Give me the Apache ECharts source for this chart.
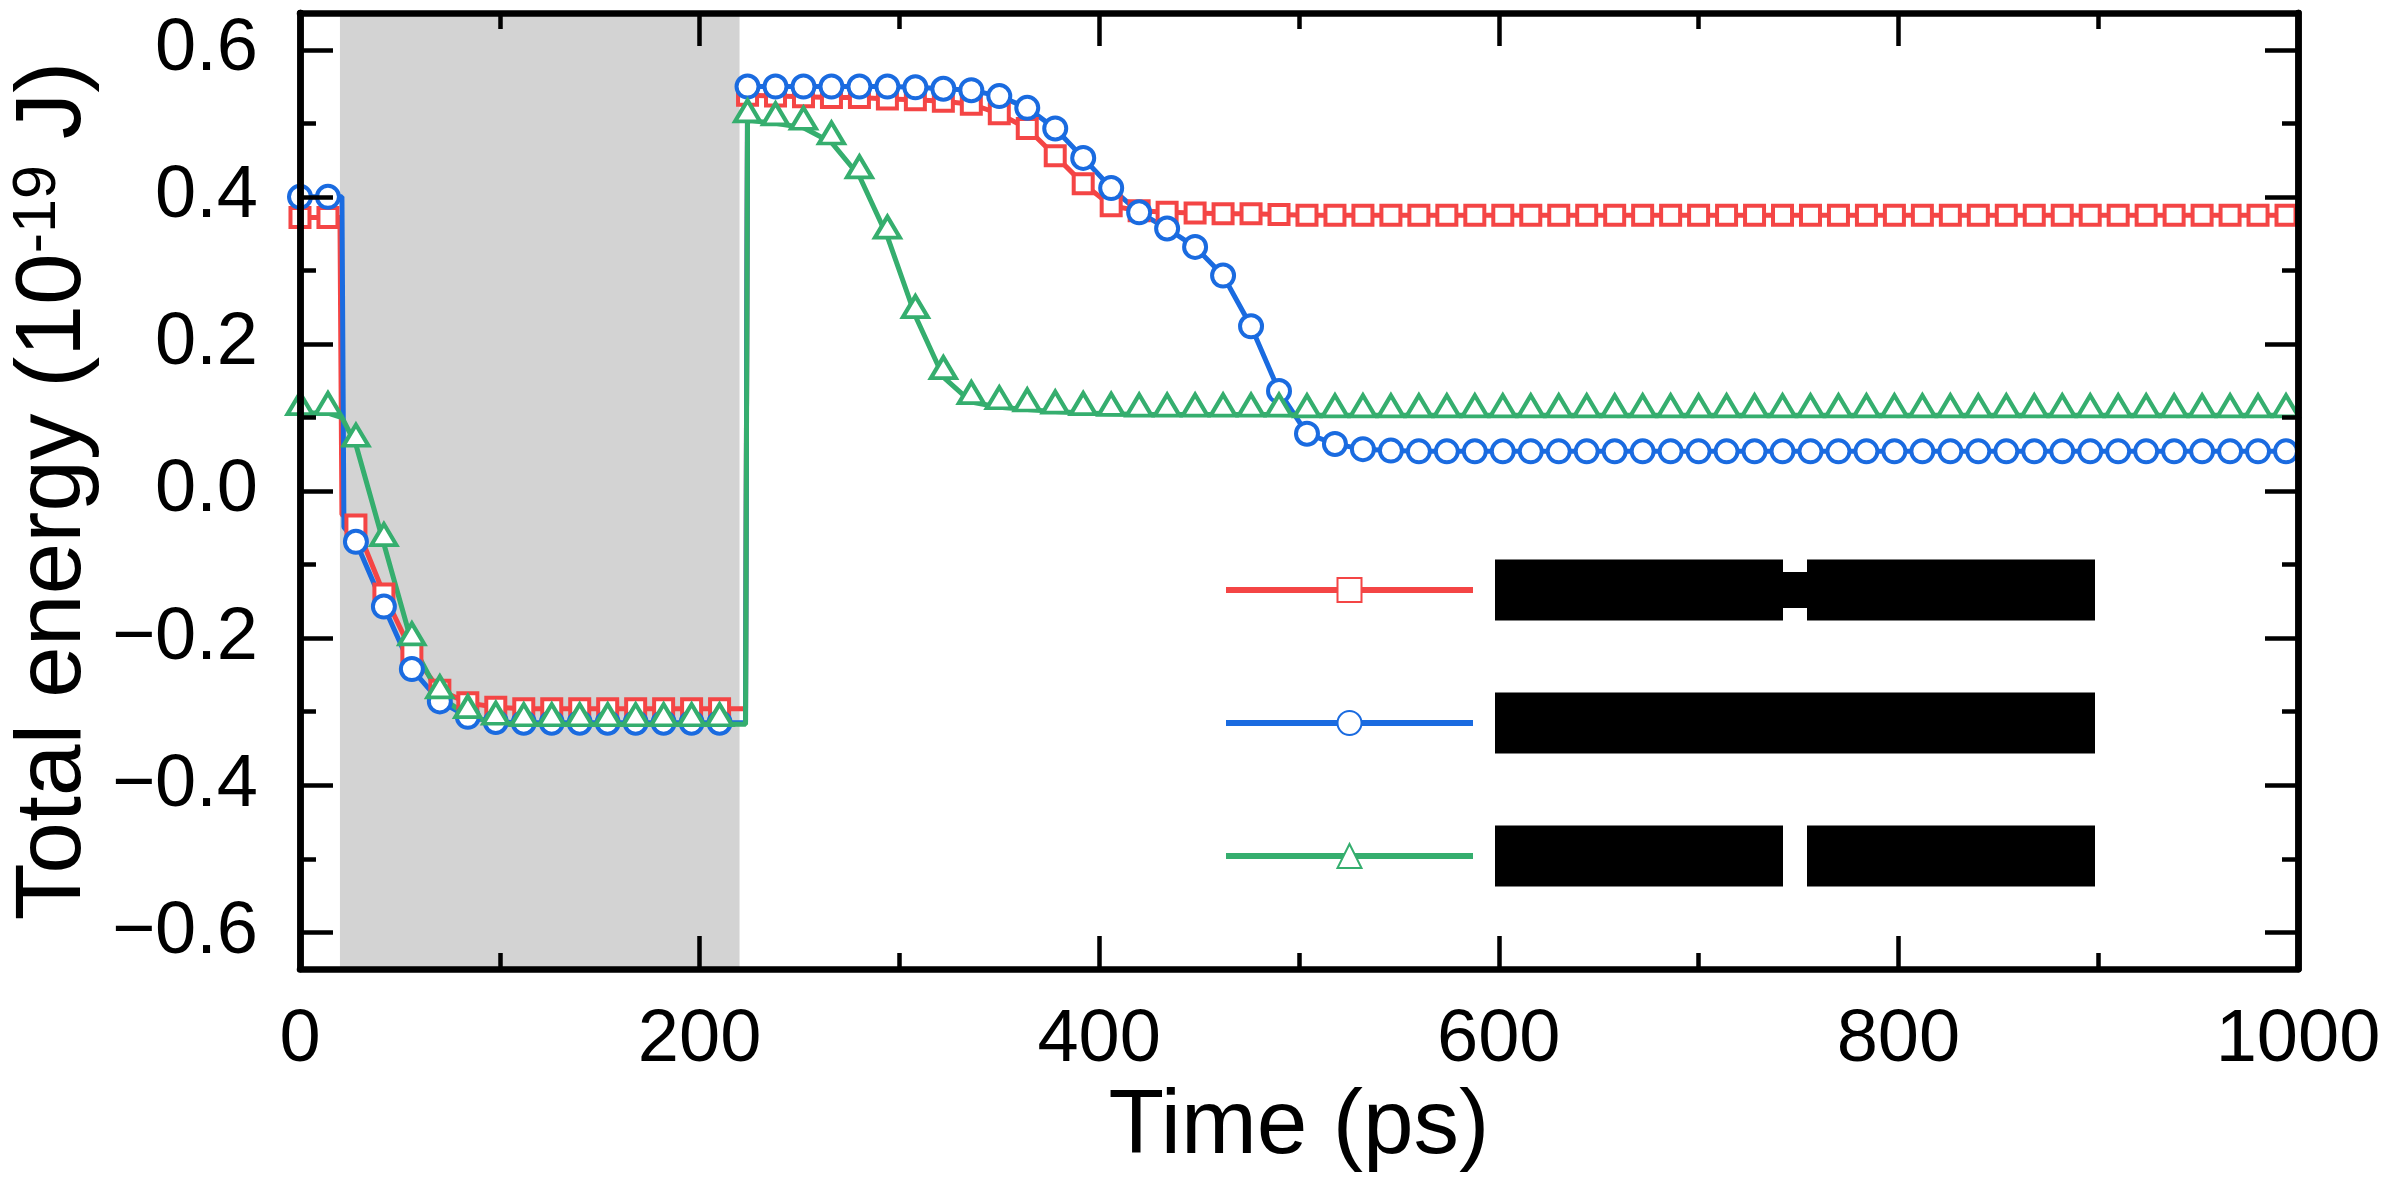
<!DOCTYPE html>
<html>
<head>
<meta charset="utf-8">
<script src="https://cdn.jsdelivr.net/npm/echarts@6.0.0/dist/echarts.min.js"></script>
<style>
  html, body { margin: 0; padding: 0; background: #fff; }
  #main { width: 2387px; height: 1178px; }
</style>
</head>
<body>
<div id="main"></div>
<script>
// marker times (ps), one symbol every 14 ps
var times = [0, 14, 28, 42, 56, 70, 84, 98, 112, 126, 140, 154, 168, 182, 196, 210,
  224, 238, 252, 266, 280, 294, 308, 322, 336, 350, 364, 378, 392, 406, 420, 434, 448, 462, 476, 490,
  504, 518, 532, 546, 560, 574, 588, 602, 616, 630, 644, 658, 672, 686, 700, 714, 728, 742, 756, 770,
  784, 798, 812, 826, 840, 854, 868, 882, 896, 910, 924, 938, 952, 966, 980, 994]

var redE = [0.372, 0.372, -0.046, -0.140, -0.219, -0.271, -0.288, -0.294, -0.296, -0.296, -0.296, -0.296, -0.296, -0.296, -0.296, -0.296,
  0.538, 0.537, 0.536, 0.535, 0.535, 0.533, 0.532, 0.530, 0.526, 0.513, 0.493, 0.456, 0.418, 0.388, 0.381, 0.379, 0.378, 0.377, 0.377, 0.376,
  0.375, 0.375, 0.375, 0.375, 0.375, 0.375, 0.375, 0.375, 0.375, 0.375, 0.375, 0.375, 0.375, 0.375, 0.375, 0.375, 0.375, 0.375, 0.375, 0.375,
  0.375, 0.375, 0.375, 0.375, 0.375, 0.375, 0.375, 0.375, 0.375, 0.375, 0.375, 0.375, 0.375, 0.375, 0.375, 0.375]

var blueE = [0.400, 0.400, -0.069, -0.157, -0.242, -0.286, -0.307, -0.314, -0.315, -0.315, -0.315, -0.315, -0.315, -0.315, -0.315, -0.315,
  0.550, 0.550, 0.550, 0.550, 0.550, 0.550, 0.549, 0.547, 0.545, 0.537, 0.521, 0.493, 0.453, 0.412, 0.379, 0.357, 0.332, 0.293, 0.224, 0.136,
  0.078, 0.064, 0.057, 0.055, 0.054, 0.054, 0.054, 0.054, 0.054, 0.054, 0.054, 0.054, 0.054, 0.054, 0.054, 0.054, 0.054, 0.054, 0.054, 0.054,
  0.054, 0.054, 0.054, 0.054, 0.054, 0.054, 0.054, 0.054, 0.054, 0.054, 0.054, 0.054, 0.054, 0.054, 0.054, 0.054]

var greenE = [0.106, 0.106, 0.063, -0.072, -0.207, -0.279, -0.306, -0.315, -0.317, -0.317, -0.317, -0.317, -0.317, -0.317, -0.317, -0.317,
  0.504, 0.500, 0.494, 0.474, 0.428, 0.346, 0.238, 0.155, 0.121, 0.114, 0.111, 0.108, 0.106, 0.105, 0.104, 0.104, 0.104, 0.104, 0.104, 0.104,
  0.103, 0.103, 0.103, 0.103, 0.103, 0.103, 0.103, 0.103, 0.103, 0.103, 0.103, 0.103, 0.103, 0.103, 0.103, 0.103, 0.103, 0.103, 0.103, 0.103,
  0.103, 0.103, 0.103, 0.103, 0.103, 0.103, 0.103, 0.103, 0.103, 0.103, 0.103, 0.103, 0.103, 0.103, 0.103, 0.103]

// points between the symbols where the curves drop / jump (no symbol drawn)
var redSteps = [[20, 0.372], [21, -0.032], [223, -0.296]]
var blueSteps = [[21, 0.400], [22, -0.049], [223, -0.315]]
var greenSteps = [[21, 0.100], [223, -0.317]]

var seriesNames = ['Case 1', 'Case 2', 'Case 3']
var shadeRange = [20, 220]
var yMajor = [-0.6, -0.4, -0.2, 0, 0.2, 0.4, 0.6]
var yMinor = [-0.5, -0.3, -0.1, 0.1, 0.3, 0.5]

var FONT = 'Liberation Sans, Arial, sans-serif'

function buildData(vals, steps) {
  var out = []
  for (var i = 0; i < times.length; i++) {
    out.push({ value: [times[i], vals[i]] })
  }
  steps.forEach(function (p) {
    out.push({ value: [p[0], p[1]], symbol: 'none' })
  })
  out.sort(function (a, b) { return a.value[0] - b.value[0] })
  return out
}

function yLabel(v) {
  return (v < -1e-9 ? '\u2212' : '') + Math.abs(v).toFixed(1)
}

function yAxisCfg(pos, ticks, len, labels) {
  return {
    type: 'value', position: pos, min: -0.65, max: 0.65, z: 10,
    axisLine: { show: true, onZero: false, lineStyle: { color: '#000', width: 6.5 } },
    axisTick: { show: true, inside: true, length: len, customValues: ticks, lineStyle: { color: '#000', width: 4.5 } },
    axisLabel: labels ? {
      show: true, customValues: ticks, margin: 42, formatter: yLabel,
      color: '#000', fontSize: 74, fontFamily: FONT
    } : { show: false },
    splitLine: { show: false }
  }
}

function xAxisCfg(pos, main) {
  var cfg = {
    type: 'value', position: pos, min: 0, max: 1000, interval: 200, z: 10,
    axisLine: { show: true, onZero: false, lineStyle: { color: '#000', width: 6.5 } },
    axisTick: { show: true, inside: true, length: 33, lineStyle: { color: '#000', width: 4.5 } },
    minorTick: { show: true, splitNumber: 2, length: 16, lineStyle: { color: '#000', width: 4.5 } },
    axisLabel: { show: false },
    splitLine: { show: false }
  }
  if (main) {
    cfg.axisLabel = {
      show: true, margin: 34, color: '#000', fontSize: 74, fontFamily: FONT,
      formatter: function (v) { return String(v) }
    }
    cfg.name = 'Time (ps)'
    cfg.nameLocation = 'middle'
    cfg.nameGap = 105
    cfg.nameTextStyle = { color: '#000', fontSize: 91, fontFamily: FONT }
  }
  return cfg
}

var leftY = yAxisCfg('left', yMajor, 33, true)
leftY.name = 'Total energy (10{sup|-19} J)'
leftY.nameLocation = 'middle'
leftY.nameGap = 191
leftY.nameTextStyle = {
  color: '#000', fontSize: 93, lineHeight: 93, fontFamily: FONT,
  rich: { sup: { color: '#000', fontSize: 61, lineHeight: 30, verticalAlign: 'top', fontFamily: FONT } }
}

function lineSeries(name, color, symbol, size, vals, steps, offset) {
  return {
    name: name, type: 'line', xAxisIndex: 0, yAxisIndex: 0,
    data: buildData(vals, steps),
    symbol: symbol, symbolSize: size, symbolOffset: offset || [0, 0],
    showAllSymbol: true,
    lineStyle: { color: color, width: 5 },
    itemStyle: { color: '#fff', borderColor: color, borderWidth: 4 },
    emphasis: { disabled: true }
  }
}

var redSeries = lineSeries(seriesNames[0], '#F44545', 'rect', 19, redE, redSteps)
redSeries.markArea = {
  silent: true,
  itemStyle: { color: '#D3D3D3' },
  data: [[{ xAxis: shadeRange[0] }, { xAxis: shadeRange[1] }]]
}

var chart = echarts.init(document.getElementById('main'), null, { renderer: 'canvas' })

var option = {
  animation: false,
  backgroundColor: '#fff',
  grid: { left: 298, right: 89, top: 13, bottom: 208, containLabel: false },
  legend: {
    orient: 'vertical', left: 1223, top: 559.5, padding: 0,
    itemWidth: 247, itemHeight: 30, itemGap: 72,
    selectedMode: false,
    data: seriesNames,
    lineStyle: { width: 6 },
    formatter: function (name) {
      if (name === seriesNames[0]) return '{blk|' + name + '}{con| }{blk| }'
      if (name === seriesNames[1]) return '{wide|' + name + '}'
      return '{blk|' + name + '}{gap| }{blk| }'
    },
    textStyle: {
      padding: [0, 0, 0, 17], fontFamily: FONT, fontSize: 30, color: '#000',
      rich: {
        blk: { backgroundColor: '#000', color: '#000', width: 288, height: 61, fontSize: 30 },
        con: { backgroundColor: '#000', color: '#000', width: 24, height: 36, fontSize: 30 },
        gap: { color: '#fff', width: 24, height: 36, fontSize: 30 },
        wide: { backgroundColor: '#000', color: '#000', width: 600, height: 61, fontSize: 30 }
      }
    }
  },
  xAxis: [xAxisCfg('bottom', true), xAxisCfg('top', false)],
  yAxis: [leftY, yAxisCfg('left', yMinor, 16, false), yAxisCfg('right', yMajor, 33, false), yAxisCfg('right', yMinor, 16, false)],
  series: [
    redSeries,
    lineSeries(seriesNames[1], '#1A6BE0', 'circle', 22, blueE, blueSteps),
    lineSeries(seriesNames[2], '#35AE6E', 'triangle', [25, 21], greenE, greenSteps, [0, '-45%'])
  ]
}
chart.setOption(option)
</script>
</body>
</html>
